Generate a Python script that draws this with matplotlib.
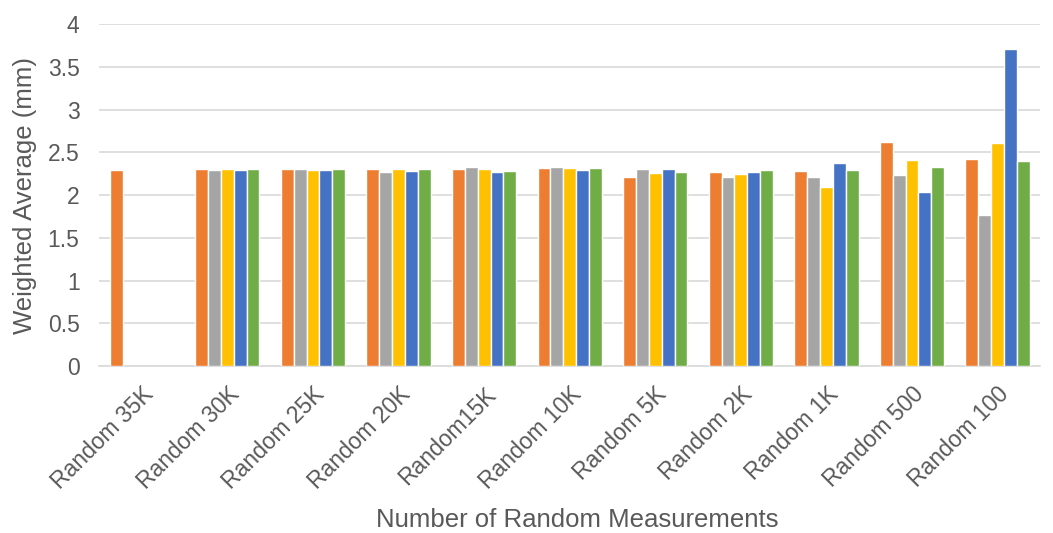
import matplotlib
matplotlib.use("Agg")
import matplotlib.pyplot as plt
import numpy as np
from matplotlib.ticker import FuncFormatter, MultipleLocator

categories = ["Random 35K", "Random 30K", "Random 25K", "Random 20K", "Random15K",
              "Random 10K", "Random 5K", "Random 2K", "Random 1K", "Random 500", "Random 100"]
series_orange = [2.29, 2.30, 2.31, 2.31, 2.30, 2.32, 2.21, 2.27, 2.28, 2.62, 2.42]
series_gray   = [None, 2.29, 2.31, 2.27, 2.33, 2.33, 2.31, 2.21, 2.21, 2.23, 1.77]
series_yellow = [None, 2.30, 2.29, 2.31, 2.30, 2.32, 2.26, 2.25, 2.10, 2.41, 2.61]
series_blue   = [None, 2.29, 2.29, 2.28, 2.27, 2.29, 2.31, 2.27, 2.37, 2.04, 3.71]
series_green  = [None, 2.30, 2.31, 2.30, 2.28, 2.32, 2.27, 2.29, 2.29, 2.33, 2.40]

series = [series_orange, series_gray, series_yellow, series_blue, series_green]
colors = ["#ED7D31", "#A5A5A5", "#FFC000", "#4472C4", "#70AD47"]

plt.rcParams['font.family'] = ['Liberation Sans', 'DejaVu Sans']
fig = plt.figure(figsize=(10.53, 5.33), dpi=100)
ax = fig.add_axes([0.094, 0.313, 0.894, 0.642])

x = np.arange(len(categories))
bw = 0.15
for i, (vals, c) in enumerate(zip(series, colors)):
    xs = [xi + (i - 2) * bw for xi, v in zip(x, vals) if v is not None]
    vs = [v for v in vals if v is not None]
    ax.bar(xs, vs, width=bw, color=c, edgecolor="white", linewidth=1.0, zorder=3)

ax.set_xlim(-0.5, len(categories) - 0.5)
ax.set_ylim(0, 4)
ax.yaxis.set_major_locator(MultipleLocator(0.5))
ax.yaxis.set_major_formatter(FuncFormatter(lambda v, p: f"{v:g}"))
ax.grid(axis="y", color="#D9D9D9", linewidth=1.2, zorder=0)
for s in ["top", "right", "left"]:
    ax.spines[s].set_visible(False)
ax.spines["bottom"].set_color("#D9D9D9")
ax.spines["bottom"].set_linewidth(1.2)
ax.tick_params(axis="both", length=0, colors="#595959", labelsize=16.5)
ax.tick_params(axis="y", pad=14)
ax.set_xticks(x)
ax.set_xticklabels(categories, rotation=45, ha="right", rotation_mode="anchor")
ax.tick_params(axis="x", pad=12)
ax.set_ylabel("Weighted Average (mm)", fontsize=18.5, color="#595959")
ax.set_xlabel("Number of Random Measurements", fontsize=18.5, color="#595959")
ax.yaxis.set_label_coords(-0.066, 0.5)
ax.xaxis.set_label_coords(0.508, -0.415)

fig.savefig("out.png", dpi=100)
